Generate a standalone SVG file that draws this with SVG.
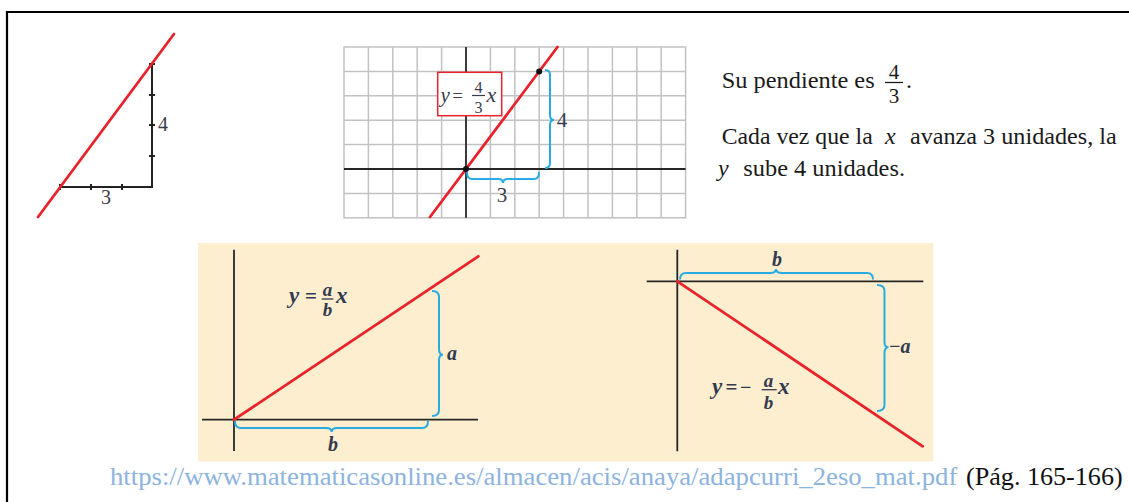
<svg xmlns="http://www.w3.org/2000/svg" width="1129" height="502" viewBox="0 0 1129 502">
<style>
.serif{font-family:"Liberation Serif","Times New Roman",serif;}
.lbl{font-family:"Liberation Serif",serif;fill:#3a3b4e;}
.it{font-style:italic;}
.eq{font-family:"Liberation Serif",serif;font-style:italic;font-weight:bold;fill:#323a50;}
.up{font-style:normal;}
.red{stroke:#e8232b;stroke-width:2.8;fill:none;stroke-linecap:round;}
.ax{stroke:#262626;stroke-width:1.8;fill:none;}
.brace{stroke:#29abe2;stroke-width:2;fill:none;}
.grid{stroke:#c2c2c2;stroke-width:1.5;fill:none;}
.tri{stroke:#222;stroke-width:2;fill:none;}
.bar{stroke:#323a50;stroke-width:1.3;}
</style>
<rect width="1129" height="502" fill="#ffffff"/>
<g id="frame">
<path d="M7,502 V12 H1129" stroke="#000" stroke-width="2.2" fill="none"/>
</g>

<g id="triangle">
<path class="tri" d="M60,187 H152 V64"/>
<path class="tri" stroke-width="1.6" d="M91,184 V190 M122,184 V190 M60,184 V190 M149,95 H155 M149,125 H155 M149,156 H155 M149,64 H155"/>
<line class="red" x1="38" y1="217" x2="174" y2="34"/>
<text class="lbl" x="106" y="204" font-size="20" text-anchor="middle">3</text>
<text class="lbl" x="163" y="131" font-size="20" text-anchor="middle">4</text>
</g>

<g id="grid-plot">
<rect x="344" y="47" width="341.6" height="170.8" fill="#ffffff" class="grid"/>
<path class="grid" d="M368.4,47V217.8M392.8,47V217.8M417.2,47V217.8M441.6,47V217.8M490.4,47V217.8M514.8,47V217.8M539.2,47V217.8M563.6,47V217.8M588,47V217.8M612.4,47V217.8M636.8,47V217.8M661.2,47V217.8M344,71.4H685.6M344,95.8H685.6M344,120.2H685.6M344,144.6H685.6M344,193.4H685.6"/>
<path class="ax" d="M466,47 V217.8 M344,169 H685.6"/>
<line class="red" x1="430" y1="217" x2="557.5" y2="47"/>
<circle cx="466" cy="169" r="3" fill="#111"/>
<circle cx="539.2" cy="71.4" r="3" fill="#111"/>
<g id="grid-label">
<rect x="437.7" y="72.3" width="64" height="43.4" fill="#ffffff" stroke="#e8232b" stroke-width="1.5"/>
<text class="lbl it" x="440.5" y="101.5" font-size="21">y</text>
<text class="lbl" x="452.5" y="101.5" font-size="18">=</text>
<text class="lbl" x="478.5" y="92.5" font-size="16" text-anchor="middle">4</text>
<line x1="472" y1="95.5" x2="485" y2="95.5" stroke="#3a3b4e" stroke-width="1.2"/>
<text class="lbl" x="478.5" y="112.5" font-size="16" text-anchor="middle">3</text>
<text class="lbl it" x="486.5" y="101.5" font-size="22">x</text>
</g>
<path class="brace" d="M545,70 Q550,70 550,75 L550,115 Q550,120 554,120 Q550,120 550,125 L550,163 Q550,168 545,168"/>
<path class="brace" d="M467,172 Q467,179 472,179 L498,179 Q503,179 503,183 Q503,179 508,179 L534,179 Q539,179 539,172"/>
<text class="lbl" x="562" y="127" font-size="21" text-anchor="middle">4</text>
<text class="lbl" x="502" y="202" font-size="21" text-anchor="middle">3</text>
</g>

<g id="explanation" class="serif" fill="#1a1a1a" font-size="24">
<text x="721.7" y="88" textLength="153" lengthAdjust="spacingAndGlyphs">Su pendiente es</text>
<text x="894" y="79" font-size="21" text-anchor="middle">4</text>
<line x1="885" y1="82.5" x2="903" y2="82.5" stroke="#1a1a1a" stroke-width="1.3"/>
<text x="894" y="103" font-size="21" text-anchor="middle">3</text>
<text x="906" y="88">.</text>
<text x="721.7" y="144" textLength="151" lengthAdjust="spacingAndGlyphs">Cada vez que la</text>
<text x="885" y="144" class="it">x</text>
<text x="910" y="144" textLength="206.7" lengthAdjust="spacingAndGlyphs">avanza 3 unidades, la</text>
<text x="718" y="176" class="it">y</text>
<text x="743.3" y="176" textLength="161.7" lengthAdjust="spacingAndGlyphs">sube 4 unidades.</text>
</g>

<rect id="panel-bg" x="198" y="243" width="735.5" height="218.5" fill="#fdeecf"/>

<g id="panel-positive">
<path class="ax" d="M234,249.7 V451 M202,419.7 H478"/>
<line class="red" x1="234" y1="419.7" x2="478.3" y2="256.3"/>
<path class="brace" d="M432,291 Q439,291 439,297 L439,349 Q439,354.7 443,354.7 Q439,354.7 439,360 L439,410 Q439,416 432,416"/>
<path class="brace" d="M235,421 Q235,428 241,428 L326,428 Q331.7,428 331.7,432 Q331.7,428 337,428 L422,428 Q428,428 428,421"/>
<text class="eq" x="452" y="360" font-size="20" text-anchor="middle">a</text>
<text class="eq" x="333" y="451" font-size="20" text-anchor="middle">b</text>
<text class="eq" x="289" y="303" font-size="23">y</text>
<text class="eq up" x="305" y="303" font-size="21">=</text>
<text class="eq" x="327.5" y="296" font-size="19" text-anchor="middle">a</text>
<line class="bar" x1="321.7" y1="299" x2="333.3" y2="299"/>
<text class="eq" x="327.5" y="315.5" font-size="19" text-anchor="middle">b</text>
<text class="eq" x="336" y="303" font-size="23">x</text>
</g>

<g id="panel-negative">
<path class="ax" d="M677.3,249.7 V451.3 M646.7,281.3 H923.3"/>
<line class="red" x1="677.3" y1="281.3" x2="922.7" y2="446.3"/>
<path class="brace" d="M680,279.5 Q680,273 686,273 L770,273 Q776,273 776,269 Q776,273 782,273 L867,273 Q873,273 873,279.5"/>
<path class="brace" d="M877,285 Q884.5,285 884.5,291 L884.5,342 Q884.5,347.3 888.5,347.3 Q884.5,347.3 884.5,353 L884.5,405 Q884.5,411 877,411"/>
<text class="eq" x="777" y="266" font-size="20" text-anchor="middle">b</text>
<text class="eq" x="888.5" y="353" font-size="20">−a</text>
<text class="eq" x="712" y="394" font-size="23">y</text>
<text class="eq up" x="725.5" y="394" font-size="21">=</text>
<text class="eq up" x="740" y="394" font-size="20">−</text>
<text class="eq" x="768.5" y="386.5" font-size="19" text-anchor="middle">a</text>
<line class="bar" x1="761.7" y1="389.7" x2="776.7" y2="389.7"/>
<text class="eq" x="768.5" y="408.5" font-size="19" text-anchor="middle">b</text>
<text class="eq" x="778" y="394" font-size="23">x</text>
</g>

<g id="source" class="serif" font-size="25">
<text x="110" y="485" fill="#8db3df" textLength="847.3" lengthAdjust="spacingAndGlyphs">https://www.matematicasonline.es/almacen/acis/anaya/adapcurri_2eso_mat.pdf</text>
<text x="966" y="485" fill="#111" textLength="156.7" lengthAdjust="spacingAndGlyphs">(Pág. 165-166)</text>
</g>
</svg>
